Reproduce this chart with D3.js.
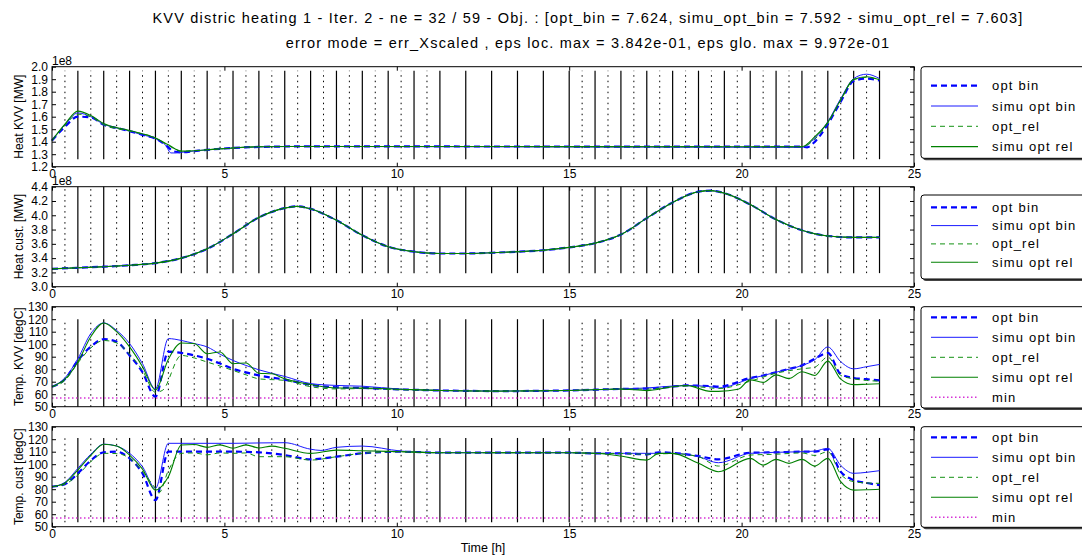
<!DOCTYPE html>
<html>
<head>
<meta charset="utf-8">
<script src="https://cdn.jsdelivr.net/npm/d3@7"></script>
<style>
  body { margin: 0; background: #fff; }
  text { font-family: "Liberation Sans", Arial, sans-serif; fill: #000; }
</style>
</head>
<body>
<svg width="1082" height="558"></svg>
<script>
/* Data */

var titleLines = [
  "KVV distric heating 1 - Iter. 2 - ne = 32 / 59 - Obj. : [opt_bin = 7.624, simu_opt_bin = 7.592 - simu_opt_rel = 7.603]",
  "error mode = err_Xscaled , eps loc. max = 3.842e-01, eps glo. max = 9.972e-01"
];
var xTicks = [0, 5, 10, 15, 20, 25];
var seriesNames = ["opt bin", "simu opt bin", "opt_rel", "simu opt rel"];

// interval boundaries (solid) and collocation midpoints (dotted), in hours
var solidTimes = [0.75, 1.5, 2.25, 3, 3.75, 4.5, 5.25, 6, 6.75, 7.5, 8.25, 9, 9.75, 10.5, 11.25, 12,
  12.75, 13.5, 14.25, 15, 15.75, 16.5, 17.25, 18, 18.75, 19.5, 20.25, 21, 21.75, 22.5, 23.25, 24];
var dottedTimes = [0.375, 1.125, 1.875, 2.625, 3.375, 4.125, 4.875, 5.625, 6.375, 7.125, 7.875, 8.625,
  9.375, 10.125, 10.875, 15.375, 16.125, 16.875, 17.625, 18.375, 19.125, 19.875, 20.625, 21.375,
  22.125, 22.875, 23.625];

// panel 1 : Heat KVV [1e8 MW]
var heatKvvTicks = [1.2, 1.3, 1.4, 1.5, 1.6, 1.7, 1.8, 1.9, 2.0];
var heatKvvOptBin = [[0,1.41],[0.375,1.52],[0.75,1.60],[1.125,1.595],[1.5,1.535],[1.875,1.51],[2.25,1.485],
  [2.625,1.455],[3,1.425],[3.375,1.355],[3.5,1.325],[3.75,1.315],[4.125,1.325],[4.5,1.335],[5.25,1.35],
  [6,1.358],[7,1.362],[21.75,1.36],[21.9,1.355],[22.125,1.40],[22.5,1.54],[22.875,1.72],[23.25,1.885],
  [23.625,1.905],[24,1.89]];
var heatKvvSimuBin = [[0,1.41],[0.375,1.535],[0.75,1.63],[1.125,1.60],[1.5,1.54],[1.875,1.51],[2.25,1.485],
  [2.625,1.455],[3,1.425],[3.3,1.37],[3.45,1.31],[3.6,1.31],[3.75,1.315],[4.5,1.335],[5.25,1.35],[6,1.358],
  [7,1.362],[21.75,1.355],[22.125,1.43],[22.5,1.56],[22.875,1.745],[23.25,1.905],[23.625,1.94],[24,1.905]];
var heatKvvOptRel = [[0,1.41],[0.375,1.53],[0.75,1.62],[1.125,1.60],[1.5,1.535],[2.25,1.485],[3,1.43],
  [3.375,1.37],[3.75,1.325],[4.5,1.335],[5.25,1.35],[6,1.36],[7,1.362],[21.75,1.36],[22.125,1.42],
  [22.5,1.55],[22.875,1.73],[23.25,1.895],[23.625,1.915],[24,1.895]];
var heatKvvSimuRel = [[0,1.41],[0.375,1.54],[0.75,1.645],[1.125,1.61],[1.5,1.545],[2.25,1.49],[3,1.43],
  [3.375,1.375],[3.75,1.325],[4.5,1.335],[5.25,1.35],[6,1.36],[7,1.362],[21.75,1.36],[22.125,1.44],
  [22.5,1.555],[22.875,1.735],[23.25,1.90],[23.625,1.92],[24,1.895]];

// panel 2 : Heat cust. [1e8 MW] (all four series overlap)
var heatCustTicks = [3.0, 3.2, 3.4, 3.6, 3.8, 4.0, 4.2, 4.4];
var heatCust = [[0,3.25],[0.75,3.265],[1.5,3.28],[2.25,3.30],[3,3.33],[3.75,3.40],[4.5,3.53],[5.25,3.74],
  [6,3.97],[6.75,4.10],[7.1,4.125],[7.5,4.09],[8.25,3.93],[9,3.72],[9.75,3.56],[10.5,3.49],[11.25,3.465],
  [12,3.465],[12.75,3.475],[13.5,3.49],[14.25,3.51],[15,3.55],[15.75,3.61],[16.5,3.73],[17.25,3.96],
  [18,4.18],[18.75,4.33],[19.1,4.345],[19.5,4.31],[20.25,4.15],[21,3.94],[21.75,3.79],[22.5,3.71],
  [23.25,3.69],[24,3.69]];

// panel 3 : Temp. KVV [degC]
var tempTicks = [50, 60, 70, 80, 90, 100, 110, 120, 130];
var tempMin = [[0,57],[24,57]];
var tempKvvOptBin = [[0,66],[0.375,72],[0.75,87],[1.125,98],[1.5,104],[1.875,102],[2.25,91],[2.625,77.6],
  [3,58],[3.375,94],[3.75,93],[4.125,91],[4.5,88.4],[4.875,84.5],[5.25,80.3],[5.625,77.5],[6,75],
  [6.75,71.7],[7.5,67.5],[8.25,65.5],[9,65],[10.125,63.8],[11.25,63],[13,62.5],[15,63],[16.5,64.2],
  [17.25,64.5],[18,66],[18.4,67],[19.1,66.5],[19.33,66],[20.25,73],[20.625,75],[21,77.6],[21.375,80.3],
  [21.75,83],[22.125,88.4],[22.5,93],[22.875,76],[23.25,73],[23.625,72],[24,71]];
var tempKvvSimuBin = [[0,66],[0.375,73],[0.75,88.4],[1.125,108.5],[1.5,117],[1.875,111],[2.25,100.5],
  [2.625,84.4],[3,64.2],[3.375,104.5],[3.75,103],[4.125,100.5],[4.5,97.8],[4.875,92],[5.25,87],[5.625,83],
  [6,79.5],[6.75,74.2],[7.5,68.5],[8.25,67],[9,66.4],[10.125,64],[11.25,63],[13,62.5],[15,63],[16.5,64.2],
  [17.25,65],[18,66.5],[18.4,67],[19.1,66],[19.33,65],[20.25,72.3],[21,77.6],[21.75,83],[22.125,87.6],
  [22.5,97.8],[22.875,86],[23.25,80.3],[23.625,82],[24,83.8]];
var tempKvvOptRel = [[0,66],[0.375,71],[0.75,85],[1.125,97],[1.5,103],[1.875,101],[2.25,92],[2.625,79],
  [3,61.5],[3.2,63],[3.75,91],[4.125,89],[4.5,85.7],[4.875,82.5],[5.25,79],[5.625,75.5],[6,72.3],
  [6.75,71],[7.5,66],[8.25,64.2],[9,64.5],[10.125,63.5],[11.25,63],[13,62.5],[15,63],[16.5,64],
  [17.25,64],[18,66],[18.4,66.5],[19.1,65],[19.33,64.5],[20.25,70.4],[21,76.8],[21.75,80.3],[22.125,81.7],
  [22.5,89.7],[22.875,75],[23.25,72.3],[23.625,71],[24,70.4]];
var tempKvvSimuRel = [[0,66],[0.375,72],[0.75,85.7],[1.125,106],[1.5,117],[1.875,110],[2.25,97.8],
  [2.625,82],[3,63.4],[3.375,88],[3.75,101],[4.125,100.5],[4.5,92.4],[4.875,93.8],[5.25,84.4],[5.625,85],
  [6,76.8],[6.375,76.3],[6.75,72.3],[7.5,67.7],[8.25,65],[9,65],[10.125,64],[11.25,63],[13,62.5],[15,63],
  [16.5,64.2],[17.25,62.9],[18,66],[18.4,67],[19.1,62.3],[19.33,62.3],[19.9,64],[20.25,71.5],[20.625,69.5],
  [21,75.5],[21.375,72.5],[21.75,78],[22.125,75],[22.5,86.5],[22.875,72],[23.25,67.7],[23.625,68],[24,68.3]];

// panel 4 : Temp. cust [degC]
var tempCustOptBin = [[0,82],[0.375,84],[0.75,92.7],[1.125,103],[1.5,109.5],[1.875,110],[2.25,104.7],
  [2.625,92.7],[3,71.3],[3.375,110],[4.5,110],[5.25,110],[6,109.5],[6.75,107.3],[7.5,103.9],[8.25,106],
  [9,108.7],[10.125,110],[11.25,109.2],[15,109.2],[15.75,108.7],[16.5,108.7],[17.25,107.9],[17.6,109.5],
  [18,109],[18.75,106.5],[19.33,103.9],[20.25,109.2],[21,109.5],[21.75,110],[22.125,110],[22.5,111.9],
  [22.875,94],[23.25,87.3],[23.625,85],[24,83.3]];
var tempCustSimuBin = [[0,82],[0.375,85.5],[0.75,96.7],[1.125,108],[1.5,116],[1.875,114.5],[2.25,108.7],
  [2.625,98],[3,80.7],[3.375,116.7],[4.5,116.7],[5.25,116.7],[6,117],[6.75,117.2],[7.5,112],[7.8,111],
  [8.25,113.5],[9,114.5],[10.125,110.5],[11.25,109.2],[15,109.2],[15.75,108.7],[16.5,108.7],[17.25,108.7],
  [18,108.7],[18.75,106],[19.33,101.2],[20.25,108.7],[21,109.5],[21.75,110],[22.125,110.5],[22.5,112.7],
  [22.875,99],[23.25,92.7],[23.625,93.5],[24,94.8]];
var tempCustOptRel = [[0,82],[0.375,84],[0.75,91.3],[1.125,102],[1.5,108.7],[1.875,108.5],[2.25,104.7],
  [2.625,94],[3,80.7],[3.1,77],[3.375,95],[3.75,108.7],[4.125,109],[4.5,107.5],[4.875,109],[5.25,108.7],
  [5.625,109],[6,106],[6.75,106],[7.5,103.3],[8.25,106],[9,108.7],[10.125,110],[11.25,109.2],[15,109.2],
  [15.75,108.7],[16.5,108.5],[17.25,108],[18,108.5],[18.75,106],[19.33,98.5],[20.25,107.3],[21,108],
  [21.75,109],[22.125,107],[22.5,110],[22.875,92],[23.25,86],[23.625,85],[24,84.7]];
var tempCustSimuRel = [[0,82],[0.375,85],[0.75,95.3],[1.125,107],[1.5,116],[1.875,114.5],[2.25,107.3],
  [2.625,96],[3,79.3],[3.375,90],[3.75,115.3],[4.125,115.8],[4.5,113.5],[4.875,115.5],[5.25,112.8],
  [5.625,115.5],[6,113],[6.375,114.5],[6.75,112.7],[7.5,108.7],[8.25,111.3],[9,110.8],[10.125,110],
  [11.25,109.2],[15,109.2],[15.75,108.7],[16.5,106.5],[17.25,103.3],[17.6,108.7],[18,108.7],[18.75,100.7],
  [19.33,94],[20.25,104.7],[20.625,99.3],[21,103.9],[21.375,100.7],[21.75,103.9],[22.125,98.5],[22.5,104.7],
  [22.875,86],[23.25,79.3],[23.625,79.5],[24,79.9]];

/* Layout and styles */

var plotLeft = 52, plotRight = 914, panelH = 100;
var styles = {
  "opt bin":      { color: "#0000ff", width: 2.2, dash: "6,4" },
  "simu opt bin": { color: "#1a1aff", width: 1,   dash: null },
  "opt_rel":      { color: "#139113", width: 1,   dash: "5,4" },
  "simu opt rel": { color: "#008000", width: 1.1, dash: null },
  "min":          { color: "#d633d6", width: 1.5, dash: "1.5,2.5" }
};

var panels = [
  { top: 66.7, label: "Heat KVV [MW]", domain: [1.2, 2.0], ticks: heatKvvTicks, fmt: ".1f", exp: "1e8",
    vspan: [1.26, 1.968], series: [heatKvvOptBin, heatKvvSimuBin, heatKvvOptRel, heatKvvSimuRel],
    legTop: 66.7, legBottom: 158.3, legRow0: 85.7, legStep: 20.3 },
  { top: 186.7, label: "Heat cust. [MW]", domain: [3.0, 4.4], ticks: heatCustTicks, fmt: ".1f", exp: "1e8",
    vspan: [3.19, 4.4], series: [heatCust, heatCust, heatCust, heatCust],
    legTop: 195, legBottom: 279, legRow0: 207.3, legStep: 18.3 },
  { top: 306.7, label: "Temp. KVV [degC]", domain: [50, 130], ticks: tempTicks, fmt: "d",
    vspan: [50, 120], series: [tempKvvOptBin, tempKvvSimuBin, tempKvvOptRel, tempKvvSimuRel], min: tempMin,
    legTop: 306.7, legBottom: 408, legRow0: 317.3, legStep: 20 },
  { top: 426.7, label: "Temp. cust [degC]", domain: [50, 130], ticks: tempTicks, fmt: "d",
    vspan: [53.5, 121], series: [tempCustOptBin, tempCustSimuBin, tempCustOptRel, tempCustSimuRel], min: tempMin,
    legTop: 426.7, legBottom: 527.3, legRow0: 437.3, legStep: 20 }
];

/* Drawing */

var svg = d3.select("svg");
var x = d3.scaleLinear().domain([0, 25]).range([plotLeft, plotRight]);

// title
svg.selectAll(".title").data(titleLines).enter().append("text")
    .attr("x", 588)
    .attr("y", function(d, i){ return 23 + i * 25; })
    .attr("text-anchor", "middle")
    .style("font-size", "14.5px")
    .style("letter-spacing", "1.2px")
    .text(function(d){ return d; });

function applyStyle(sel, st) {
  sel.attr("fill", "none")
     .attr("stroke", st.color)
     .attr("stroke-width", st.width)
     .attr("stroke-dasharray", st.dash);
}

panels.forEach(function(p){
  var bottom = p.top + panelH;
  var y = d3.scaleLinear().domain(p.domain).range([bottom, p.top]);
  var g = svg.append("g");

  // interval boundaries and collocation points
  g.selectAll(".vsolid").data(solidTimes).enter().append("line")
      .attr("x1", x).attr("x2", x)
      .attr("y1", y(p.vspan[0])).attr("y2", y(p.vspan[1]))
      .attr("stroke", "#000").attr("stroke-width", 1.2);
  g.selectAll(".vdot").data(dottedTimes).enter().append("line")
      .attr("x1", x).attr("x2", x)
      .attr("y1", y(p.vspan[0])).attr("y2", y(p.vspan[1]))
      .attr("stroke", "#000").attr("stroke-width", 1)
      .attr("stroke-dasharray", "1.5,4");

  var line = d3.line()
      .x(function(d){ return x(d[0]); })
      .y(function(d){ return y(d[1]); })
      .curve(d3.curveMonotoneX);

  p.series.forEach(function(data, i){
    g.append("path").datum(data).attr("d", line).call(applyStyle, styles[seriesNames[i]]);
  });
  if (p.min) g.append("path").datum(p.min).attr("d", line).call(applyStyle, styles["min"]);

  // frame
  g.append("rect")
      .attr("x", plotLeft).attr("y", p.top)
      .attr("width", plotRight - plotLeft).attr("height", panelH)
      .attr("fill", "none").attr("stroke", "#000").attr("stroke-width", 1);

  // axes, ticks pointing inward
  var fmt = d3.format(p.fmt);
  g.append("g").attr("transform", "translate(" + plotLeft + ",0)")
      .call(d3.axisLeft(y).tickValues(p.ticks).tickFormat(fmt).tickSizeInner(-4).tickSizeOuter(0).tickPadding(4))
      .call(styleAxis);
  g.append("g").attr("transform", "translate(" + plotRight + ",0)")
      .call(d3.axisRight(y).tickValues(p.ticks).tickFormat("").tickSizeInner(-4).tickSizeOuter(0))
      .call(styleAxis);
  g.append("g").attr("transform", "translate(0," + bottom + ")")
      .call(d3.axisBottom(x).tickValues(xTicks).tickFormat(d3.format("d")).tickSizeInner(-4).tickSizeOuter(0).tickPadding(3))
      .call(styleAxis);
  g.append("g").attr("transform", "translate(0," + p.top + ")")
      .call(d3.axisTop(x).tickValues(xTicks).tickFormat("").tickSizeInner(-4).tickSizeOuter(0))
      .call(styleAxis);

  if (p.exp) {
    g.append("text").attr("x", plotLeft).attr("y", p.top - 1.5)
        .style("font-size", "12px").text(p.exp);
  }

  // y label
  g.append("text")
      .attr("transform", "translate(19," + (p.top + panelH / 2) + ") rotate(-90)")
      .attr("text-anchor", "middle")
      .attr("dy", "0.35em")
      .style("font-size", "12px")
      .text(p.label);

  // legend
  var names = p.min ? seriesNames.concat(["min"]) : seriesNames;
  var leg = g.append("g");
  leg.append("rect").attr("x", 923).attr("y", p.legTop + 2)
      .attr("width", 180).attr("height", p.legBottom - p.legTop)
      .attr("rx", 3).attr("fill", "#444");
  leg.append("rect").attr("x", 921).attr("y", p.legTop)
      .attr("width", 180).attr("height", p.legBottom - p.legTop)
      .attr("rx", 3).attr("fill", "#fff").attr("stroke", "#000").attr("stroke-width", 1);
  names.forEach(function(name, i){
    var ry = p.legRow0 + i * p.legStep;
    leg.append("line").attr("x1", 931).attr("x2", 978).attr("y1", ry).attr("y2", ry)
        .call(applyStyle, styles[name]);
    leg.append("text").attr("x", 992).attr("y", ry).attr("dy", "0.35em")
        .style("font-size", "13px").style("letter-spacing", "1.2px")
        .text(name);
  });
});

function styleAxis(sel) {
  sel.select(".domain").remove();
  sel.selectAll(".tick line").attr("stroke", "#000");
  sel.selectAll(".tick text").style("font-size", "12px").style("font-family", "'Liberation Sans', Arial, sans-serif");
}

// x label
svg.append("text")
    .attr("x", (plotLeft + plotRight) / 2)
    .attr("y", 552)
    .attr("text-anchor", "middle")
    .style("font-size", "12.5px")
    .text("Time [h]");
</script>
</body>
</html>
